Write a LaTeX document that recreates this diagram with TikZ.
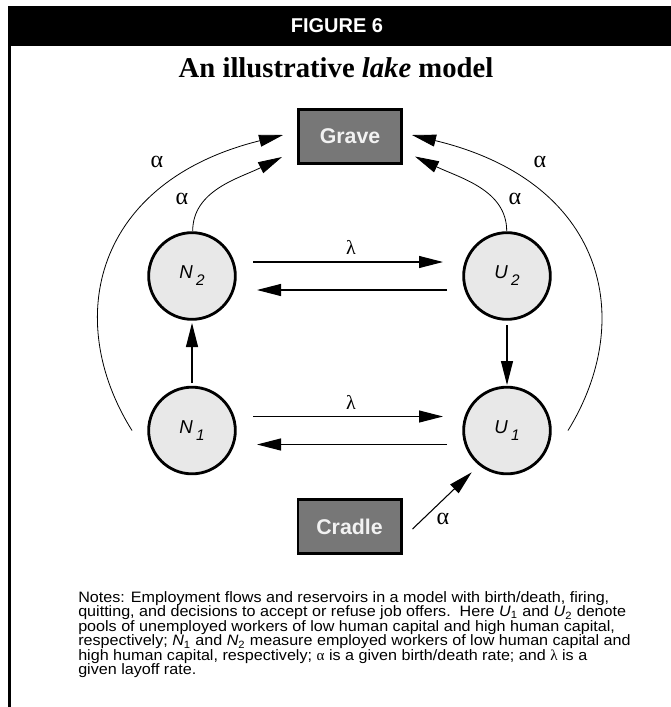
\documentclass[tikz,border=0pt]{standalone}
\usepackage{fontspec}
\setmainfont{Liberation Serif}
\setsansfont{Liberation Sans}
\newfontfamily\notesfam{Liberation Sans}[FakeStretch=1.07]
\usetikzlibrary{arrows.meta,calc}
\definecolor{circfill}{HTML}{E8E8E8}
\definecolor{boxfill}{HTML}{777777}
\definecolor{boxtext}{HTML}{F2F2F2}
\newcommand{\poollabel}[2]{\textit{#1}\hspace{2.5pt}\raisebox{-5.3pt}{\fontsize{11.5}{11.5}\selectfont\textit{#2}}}
\newcommand{\notesub}[2]{\textit{#1}\textsubscript{#2}}
\newcommand{\notesfont}{\notesfam\fontsize{11.3}{10.9}\selectfont\setlength{\lineskiplimit}{-20pt}\setlength{\lineskip}{0pt}}
\begin{document}
\begin{tikzpicture}[x=0.75pt,y=-0.75pt,
  pool/.style={circle, draw, line width=2.1pt, fill=circfill, minimum size=65pt, inner sep=0pt,
    font=\sffamily\fontsize{14}{14}\selectfont},
  rbox/.style={draw, line width=2pt, fill=boxfill, minimum width=77.5pt, minimum height=40.7pt,
    inner sep=0pt, text=boxtext, font=\sffamily\bfseries\fontsize{16}{16}\selectfont},
  arr/.style={-{Triangle[length=18pt,width=9pt]}, line width=0.8pt},
  arrc/.style={-{Triangle[length=18pt,width=9pt]}, line width=0.6pt},
  alpha/.style={inner sep=0pt, font=\fontsize{18}{18}\selectfont},
  lambda/.style={inner sep=0pt, font=\fontsize{15}{15}\selectfont}]
\useasboundingbox (0,0) rectangle (671,707);
% frame
\fill[black] (8,6) rectangle (671,45.5);
\draw[line width=2.25pt] (9.5,45) -- (9.5,707);
\node[text=white, inner sep=0pt, font=\sffamily\bfseries\fontsize{15}{15}\selectfont] (fig) at (337,26) {FIGURE 6};
\node[inner sep=0pt, font=\bfseries\fontsize{21.5}{21.5}\selectfont] (title) at (336,68) {An illustrative \textit{lake} model};
% nodes
\node[rbox] (Grave) at (350,136.5) {Grave};
\node[rbox] (Cradle) at (349.5,526.5) {Cradle};
\node[pool] (N2) at (192,276) {\poollabel{N}{2}};
\node[pool] (U2) at (507,276) {\poollabel{U}{2}};
\node[pool] (N1) at (192,430.5) {\poollabel{N}{1}};
\node[pool] (U1) at (507,430.5) {\poollabel{U}{1}};
% horizontal flows
\draw[arr] ($(N2.center)+(61,-14)$) -- ($(U2.center)+(-64,-14)$);
\draw[arr] ($(U2.center)+(-60,14)$) -- ($(N2.center)+(65,14)$);
\draw[arr] ($(N1.center)+(61,-14)$) -- ($(U1.center)+(-64,-14)$);
\draw[arr] ($(U1.center)+(-60,14)$) -- ($(N1.center)+(65,14)$);
\node[lambda] (l2) at (351,247) {λ};
\node[lambda] (l1) at (351,402) {λ};
% vertical flows
\draw[arr] ($(N1.center)+(0,-47.5)$) -- ($(N2.center)+(0,47)$);
\draw[arr] ($(U2.center)+(0,49)$) -- ($(U1.center)+(0,-45.5)$);
% cradle
\draw[arr] ($(Cradle.center)+(63,2.5)$) -- ($(U1.center)+(-35.3,41.8)$);
\node[alpha] (ac) at (443,519) {α};
% curves to grave
\draw[arrc] ($(N1.center)+(-60,0)$) .. controls ($(N1.center)+(-130,-112)$) and ($(Grave.center)+(-255,45)$) .. ($(Grave.center)+(-67,-1.5)$);
\draw[arrc] ($(U1.center)+(61,0)$) .. controls ($(U1.center)+(130,-112)$) and ($(Grave.center)+(255,45)$) .. ($(Grave.center)+(62,-1.5)$);
\draw[arrc] ($(N2.center)+(0.7,-45)$) .. controls ($(N2.center)+(0.7,-86)$) and ($(Grave.center)+(-110,41.5)$) .. ($(Grave.center)+(-68,20.5)$);
\draw[arrc] ($(U2.center)+(-0.3,-45)$) .. controls ($(U2.center)+(-0.3,-86)$) and ($(Grave.center)+(110,41.5)$) .. ($(Grave.center)+(65,20)$);
\node[alpha] (a1) at (157,162) {α};
\node[alpha] (a2) at (182,199) {α};
\node[alpha] (a3) at (515,199) {α};
\node[alpha] (a4) at (540,162) {α};
% notes
\node[anchor=north west, inner sep=0pt, align=left, font=\notesfont] (notes) at (78,591) {%
Notes: Employment flows and reservoirs in a model with birth/death, firing,\\
quitting, and decisions to accept or refuse job offers.\ \ Here \notesub{U}{1} and \notesub{U}{2} denote\\
pools of unemployed workers of low human capital and high human capital,\\
respectively; \notesub{N}{1} and \notesub{N}{2} measure employed workers of low human capital and\\
high human capital, respectively; {\rmfamily α} is a given birth/death rate; and {\rmfamily λ} is a\\
given layoff rate.};
\end{tikzpicture}
\end{document}
